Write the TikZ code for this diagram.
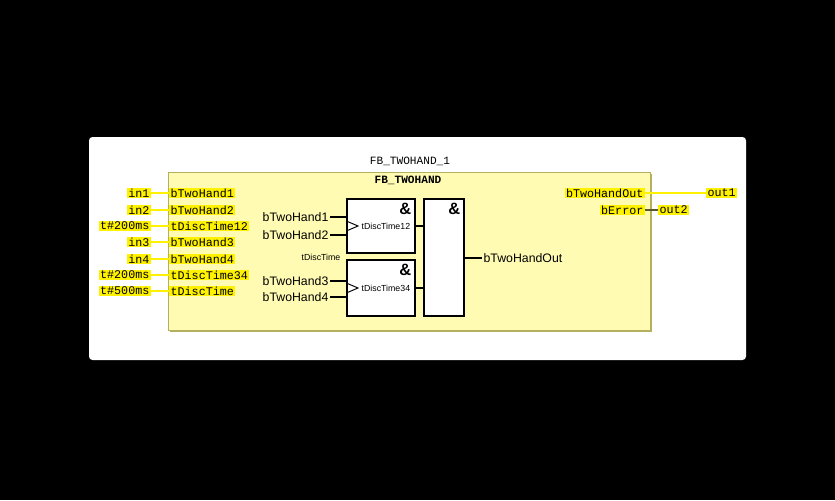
\documentclass[tikz,border=0pt]{standalone}
\usepackage{fontspec}
\setmainfont{Liberation Sans}
\newfontfamily\pinfont{Liberation Mono}
\usetikzlibrary{positioning}
\definecolor{fbyellow}{HTML}{FFFBB3}
\definecolor{fbedge}{HTML}{B5B060}
\definecolor{hlyellow}{HTML}{FFF200}
\begin{document}
\begin{tikzpicture}[x=0.03cm,y=-0.03cm,thick,
    pin/.style={fill=hlyellow,inner sep=1pt,font=\pinfont\fontsize{10}{11}\selectfont},
    wire/.style={line width=1pt},
    yline/.style={draw=hlyellow,line width=1.2pt},
    gate/.style={draw,line width=1.2pt,fill=white,inner sep=0pt},
    sig/.style={inner sep=1pt,font=\fontsize{10.5}{12}\selectfont}]

    % -- Background and panel --
    \fill[black] (0,0) rectangle (835,500);
    \useasboundingbox (0,0) rectangle (835,500);
    \fill[white,rounded corners=3pt] (89,137) rectangle (746,360);

    % -- Function block --
    \fill[fbedge] (170,174) rectangle (652,332);
    \filldraw[fill=fbyellow,draw=fbedge,line width=0.8pt] (168,172) rectangle (650,330);
    \node[font=\pinfont\fontsize{9.5}{11}\selectfont] (inst) at (410,161) {FB\_TWOHAND\_1};
    \node[font=\pinfont\bfseries\fontsize{9.5}{11}\selectfont] (type) at (408,180) {FB\_TWOHAND};

    % -- Inputs --
    \foreach \y/\outer/\inner [count=\i] in
        {193/in1/bTwoHand1, 210/in2/bTwoHand2, 226/t\#200ms/tDiscTime12,
         242/in3/bTwoHand3, 259/in4/bTwoHand4, 275/t\#200ms/tDiscTime34,
         291/t\#500ms/tDiscTime} {
        \node[pin,anchor=east] (act\i) at (151,\y) {\outer};
        \node[pin,anchor=west] (par\i) at (169,\y) {\inner};
        \draw[yline] (act\i.east) -- (par\i.west);
    }

    % -- Outputs --
    \node[pin,anchor=east] (parout1) at (645,193) {bTwoHandOut};
    \node[pin,anchor=west] (actout1) at (706,193) {out1};
    \draw[yline] (parout1.east) -- (actout1.west);
    \node[pin,anchor=east] (parout2) at (645,210) {bError};
    \node[pin,anchor=west] (actout2) at (658,210) {out2};
    \draw[wire,fbedge!50!black] (parout2.east) -- (actout2.west);

    % -- Inner gates --
    \node[gate,minimum width=68*0.03cm,minimum height=54*0.03cm] (and12) at (381,226) {};
    \node[gate,minimum width=68*0.03cm,minimum height=56*0.03cm] (and34) at (381,288) {};
    \node[gate,minimum width=40*0.03cm,minimum height=117*0.03cm] (andout) at (444,257.5) {};
    \foreach \g in {and12,and34,andout}
        \node[font=\bfseries\fontsize{14}{14}\selectfont,anchor=north east] at (\g.north east) {\&};
    \node[font=\fontsize{7.5}{9}\selectfont,anchor=west,inner sep=1pt] (t12) at (360,226) {tDiscTime12};
    \node[font=\fontsize{7.5}{9}\selectfont,anchor=west,inner sep=1pt] (t34) at (360,288) {tDiscTime34};
    \draw[line width=0.8pt] (and12.west|-0,221) -- (358,226) -- (and12.west|-0,231);
    \draw[line width=0.8pt] (and34.west|-0,283) -- (358,288) -- (and34.west|-0,293);

    % -- Gate signals --
    \node[sig,anchor=east] (in1) at (330,217) {bTwoHand1};
    \node[sig,anchor=east] (in2) at (330,235) {bTwoHand2};
    \node[sig,anchor=east] (in3) at (330,281) {bTwoHand3};
    \node[sig,anchor=east] (in4) at (330,297) {bTwoHand4};
    \node[font=\fontsize{7.5}{9}\selectfont,anchor=east,inner sep=1pt] (tdisc) at (342,257) {tDiscTime};
    \draw[wire] (in1.east) -- (in1.east-|and12.west);
    \draw[wire] (in2.east) -- (in2.east-|and12.west);
    \draw[wire] (in3.east) -- (in3.east-|and34.west);
    \draw[wire] (in4.east) -- (in4.east-|and34.west);
    \draw[wire] (and12.east) -- (and12.east-|andout.west);
    \draw[wire] (and34.east) -- (and34.east-|andout.west);
    \node[sig,anchor=west] (res) at (482,258) {bTwoHandOut};
    \draw[wire] (andout.east|-res.west) -- (res.west);

\end{tikzpicture}
\end{document}
